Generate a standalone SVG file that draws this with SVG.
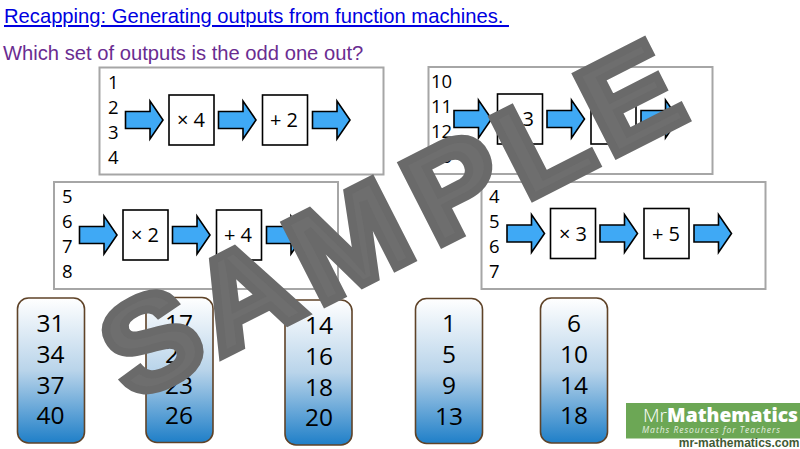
<svg xmlns="http://www.w3.org/2000/svg" width="800" height="449" viewBox="0 0 800 449">
<style>
.t{font-family:"Liberation Sans",Arial,sans-serif;font-size:20.2px}
.n{font-family:"Open Sans","Noto Sans",sans-serif;font-size:18.5px;fill:#000}
.o{font-family:"Open Sans","Noto Sans",sans-serif;font-size:24.5px;fill:#000;text-anchor:middle}
.f{font-family:"Open Sans","Noto Sans",sans-serif;font-size:20px;fill:#000;text-anchor:middle}
.panel{fill:#fff;stroke:#a6a6a6;stroke-width:2}
.box{fill:#fff;stroke:#000;stroke-width:1.6}
.ar{fill:#3fa9f5;stroke:#000;stroke-width:1.6;stroke-linejoin:miter}
.col{fill:url(#g);stroke:#5f4328;stroke-width:1.6}
</style>
<defs>
<linearGradient id="g" x1="0" y1="0" x2="0" y2="1"><stop offset="0" stop-color="#fff"/><stop offset=".5" stop-color="#b9d4ea"/><stop offset="1" stop-color="#1f7fc8"/></linearGradient>
<path id="a" d="M0 -8.5H24.5V-19L37.5 0L24.5 19V8.5H0Z"/>
<g id="m"><use href="#a" class="ar" x="0" y="0"/><rect class="box" x="43.5" y="-25" width="45" height="50"/><use href="#a" class="ar" x="93" y="0"/><rect class="box" x="137" y="-25" width="45" height="50"/><use href="#a" class="ar" x="187" y="0"/></g>
</defs>
<rect width="800" height="449" fill="#fff"/>
<text class="t" x="4" y="23" fill="#0000e0" text-decoration="underline" xml:space="preserve">Recapping: Generating outputs from function machines. </text>
<text class="t" x="3" y="60" fill="#6a2c91">Which set of outputs is the odd one out?</text>

<g id="machine-1"><rect class="panel" x="99.500" y="67.500" width="284" height="107"/>
<text class="n"><tspan x="108" y="89">1</tspan><tspan x="108" y="114">2</tspan><tspan x="108" y="139">3</tspan><tspan x="108" y="164">4</tspan></text>
<use href="#m" x="125.500" y="120"/><text class="f" x="191" y="127">× 4</text><text class="f" x="284" y="127">+ 2</text></g>

<g id="machine-2"><rect class="panel" x="428.500" y="67" width="284" height="107"/>
<text class="n"><tspan x="431" y="88">10</tspan><tspan x="431" y="113">11</tspan><tspan x="431" y="138">12</tspan><tspan x="431" y="163">13</tspan></text>
<use href="#m" x="454" y="119"/><text class="f" x="520" y="126">× 3</text></g>

<g id="machine-3"><rect class="panel" x="54" y="182" width="284" height="107"/>
<text class="n"><tspan x="62" y="203">5</tspan><tspan x="62" y="228">6</tspan><tspan x="62" y="253">7</tspan><tspan x="62" y="278">8</tspan></text>
<use href="#m" x="79.500" y="235"/><text class="f" x="145" y="242">× 2</text><text class="f" x="238" y="242">+ 4</text></g>

<g id="machine-4"><rect class="panel" x="481.500" y="182" width="284" height="107"/>
<text class="n"><tspan x="489" y="203">4</tspan><tspan x="489" y="228">5</tspan><tspan x="489" y="253">6</tspan><tspan x="489" y="278">7</tspan></text>
<use href="#m" x="507" y="233.500"/><text class="f" x="573" y="240.500">× 3</text><text class="f" x="666" y="240.500">+ 5</text></g>

<g id="outputs-1"><rect class="col" x="17.500" y="298" width="67" height="145" rx="11"/>
<text class="o"><tspan x="50.500" y="332">31</tspan><tspan x="50.500" y="363">34</tspan><tspan x="50.500" y="394">37</tspan><tspan x="50.500" y="424">40</tspan></text></g>
<g id="outputs-2"><rect class="col" x="146" y="297.500" width="67" height="145" rx="11"/>
<text class="o"><tspan x="179" y="332">17</tspan><tspan x="179" y="363">20</tspan><tspan x="179" y="394">23</tspan><tspan x="179" y="424">26</tspan></text></g>
<g id="outputs-3"><rect class="col" x="285" y="300" width="67" height="145" rx="11"/>
<text class="o"><tspan x="319" y="334">14</tspan><tspan x="319" y="365">16</tspan><tspan x="319" y="396">18</tspan><tspan x="319" y="426">20</tspan></text></g>
<g id="outputs-4"><rect class="col" x="415.500" y="298.500" width="67" height="145" rx="11"/>
<text class="o"><tspan x="449" y="332">1</tspan><tspan x="449" y="363">5</tspan><tspan x="449" y="394">9</tspan><tspan x="449" y="425">13</tspan></text></g>
<g id="outputs-5"><rect class="col" x="540.500" y="298" width="67" height="145" rx="11"/>
<text class="o"><tspan x="574" y="332">6</tspan><tspan x="574" y="363">10</tspan><tspan x="574" y="394">14</tspan><tspan x="574" y="424">18</tspan></text></g>

<g id="logo"><rect x="626" y="403" width="174" height="35.500" fill="#6ca755"/>
<text x="643" y="421.500" font-family="'Open Sans',sans-serif" font-size="18.500" fill="#fff" textLength="155" lengthAdjust="spacingAndGlyphs"><tspan font-weight="300">Mr</tspan><tspan font-weight="800">Mathematics</tspan></text>
<text x="642" y="433" font-family="'Open Sans',sans-serif" font-size="8.500" font-style="italic" fill="#e6f0e0" textLength="138">Maths Resources for Teachers</text>
<text x="799.500" y="446.500" text-anchor="end" font-family="'Liberation Sans',sans-serif" font-size="12" font-weight="700" fill="#3f5a35">mr-mathematics.com</text></g>

<text id="watermark" transform="translate(124 406) rotate(-27) scale(1.06 1)" x="7.300 101.700 205.200 328.900 425 513.700" y="0" font-family="'Liberation Sans',Arial,sans-serif" font-weight="700" font-size="130" fill="#6e6e6e" stroke="#6a6a6a" stroke-width="8">SAMPLE</text>
</svg>
